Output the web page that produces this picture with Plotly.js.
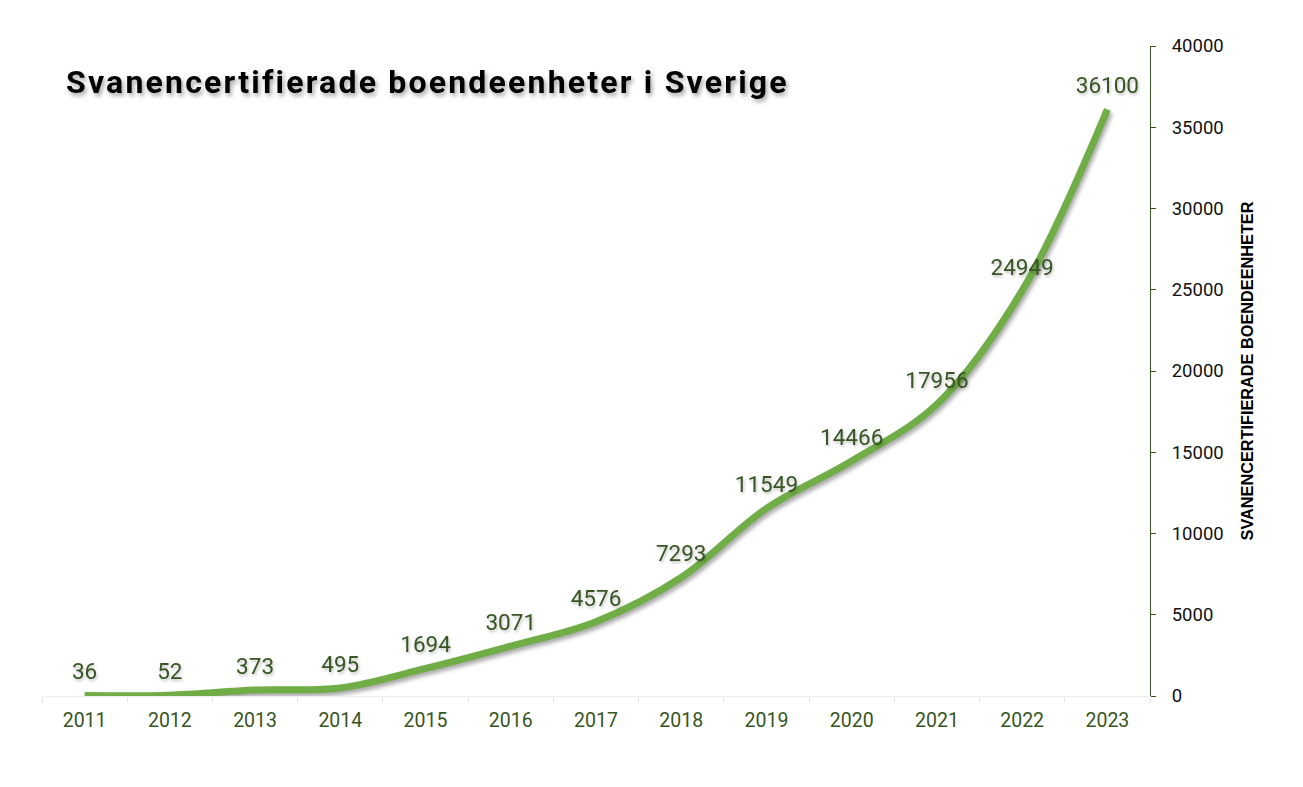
<!DOCTYPE html>
<html>
<head>
<meta charset="utf-8">
<script src="https://cdn.plot.ly/plotly-3.0.1.min.js"></script>
<style>
  body { margin: 0; background: #fff; }
  #chart { width: 1303px; height: 787px; }
  .scatterlayer .trace path.js-line { filter: drop-shadow(2px 3px 2px rgba(0,0,0,0.35)); }
  .scatterlayer .textpoint text { filter: drop-shadow(1px 2px 1.5px rgba(0,0,0,0.25)); }
  .gtitle { letter-spacing: 2.2px; filter: drop-shadow(2px 3px 2px rgba(0,0,0,0.35)); }
</style>
</head>
<body>
<div id="chart"></div>
<script>
const years = ["2011","2012","2013","2014","2015","2016","2017","2018","2019","2020","2021","2022","2023"];
const units = [36, 52, 373, 495, 1694, 3071, 4576, 7293, 11549, 14466, 17956, 24949, 36100];
const yTicks = [0, 5000, 10000, 15000, 20000, 25000, 30000, 35000, 40000];

const darkGreen = '#375623';
const lineGreen = '#70ad47';

const trace = {
  x: years,
  y: units,
  type: 'scatter',
  mode: 'lines+markers+text',
  line: { color: lineGreen, width: 7, shape: 'spline', smoothing: 1 },
  marker: { size: 15, opacity: 0, color: lineGreen },
  text: units.map(String),
  textposition: 'top center',
  textfont: { family: 'Roboto', size: 22.5, color: darkGreen },
  cliponaxis: false,
  hoverinfo: 'x+y'
};

const layout = {
  width: 1303,
  height: 787,
  paper_bgcolor: '#ffffff',
  plot_bgcolor: '#ffffff',
  margin: { l: 41.5, r: 153, t: 46, b: 91 },
  showlegend: false,
  title: {
    text: 'Svanencertifierade boendeenheter i Sverige',
    font: { family: 'Roboto', size: 32, color: '#000000', weight: 700 },
    xref: 'container', x: 66 / 1303, xanchor: 'left',
    yref: 'container', y: 1 - 82 / 787, yanchor: 'middle'
  },
  xaxis: {
    type: 'category',
    range: [-0.5, years.length - 0.5],
    tickson: 'boundaries',
    ticks: 'outside',
    ticklen: 6,
    tickcolor: '#e6e6e6',
    showline: true,
    linecolor: '#eeeeee',
    linewidth: 1,
    showgrid: false,
    zeroline: false,
    tickfont: { family: 'Roboto', size: 19.5, color: darkGreen },
    ticklabelstandoff: 7
  },
  yaxis: {
    side: 'right',
    range: [0, 40000],
    tickvals: yTicks,
    ticktext: yTicks.map(String),
    ticks: 'outside',
    ticklen: 5,
    tickcolor: darkGreen,
    showline: true,
    linecolor: darkGreen,
    linewidth: 1,
    showgrid: false,
    zeroline: false,
    tickfont: { family: 'Roboto', size: 18.5, color: '#111111' },
    ticklabelstandoff: 12,
    title: {
      text: 'SVANENCERTIFIERADE BOENDEENHETER',
      font: { family: 'Liberation Sans', size: 16.3, color: '#000000', weight: 700 },
      standoff: 18
    },
    automargin: false
  }
};

Plotly.newPlot('chart', [trace], layout, { displayModeBar: false, staticPlot: true });
</script>
</body>
</html>
